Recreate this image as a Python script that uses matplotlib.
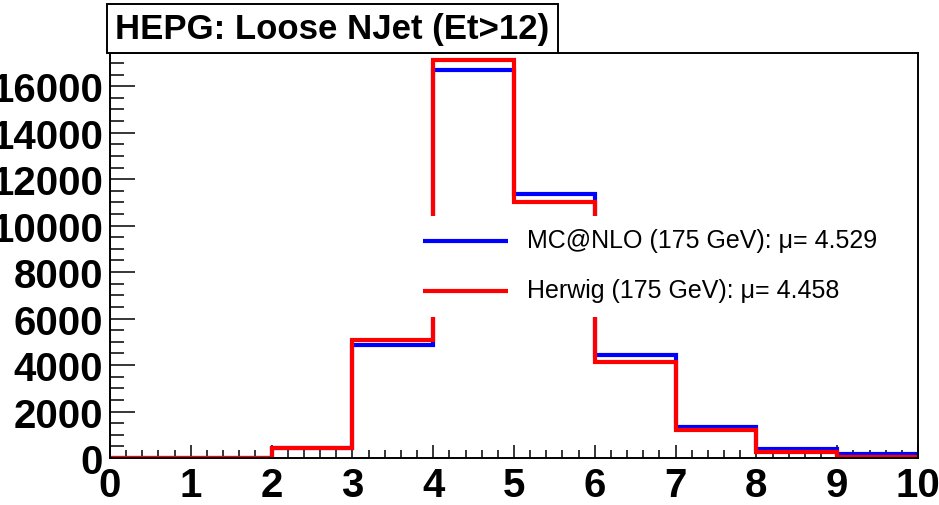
import numpy as np
import matplotlib
matplotlib.use("Agg")
import matplotlib.pyplot as plt
from matplotlib.patches import Rectangle
from matplotlib.ticker import MultipleLocator

# Jet multiplicity bins (Et > 12 GeV)
bin_edges = [0, 1, 2, 3, 4, 5, 6, 7, 8, 9, 10]
mcatnlo_counts = [0, 0, 430, 4870, 16680, 11350, 4440, 1320, 380, 180]
herwig_counts = [0, 0, 450, 5060, 17130, 11030, 4150, 1195, 240, 50]

title_text = "HEPG: Loose NJet (Et>12)"
mcatnlo_label = "MC@NLO (175 GeV): \u03bc= 4.529"
herwig_label = "Herwig (175 GeV): \u03bc= 4.458"

W, H = 939, 506
fig = plt.figure(figsize=(W / 100, H / 100), dpi=100)
fig.patch.set_facecolor("white")

# axes frame in pixel terms
x0, x1 = 110, 918
y_top, y_bot = 53.5, 459
ax = fig.add_axes([x0 / W, (H - y_bot) / H, (x1 - x0) / W, (y_bot - y_top) / H])

ymax = 17450
ax.set_xlim(0, 10)
ax.set_ylim(0, ymax)

ax.stairs(mcatnlo_counts, bin_edges, baseline=0, color="#0000ff", lw=3.0, zorder=3)
ax.stairs(herwig_counts, bin_edges, baseline=0, color="#ff0000", lw=3.0, zorder=4)

for s in ax.spines.values():
    s.set_linewidth(1.4)
    s.set_color("black")
    s.set_zorder(6)

ax.xaxis.set_major_locator(MultipleLocator(1))
ax.xaxis.set_minor_locator(MultipleLocator(0.2))
ax.yaxis.set_major_locator(MultipleLocator(2000))
ax.yaxis.set_minor_locator(MultipleLocator(500))

tick_font = dict(family="Liberation Sans", weight="bold", size=29)
ax.tick_params(axis="y", which="major", direction="in", length=18, width=1.1, pad=5)
ax.tick_params(axis="y", which="minor", direction="in", length=10, width=1.1)
ax.tick_params(axis="x", which="major", direction="in", length=9.5, width=1.1, pad=6)
ax.tick_params(axis="x", which="minor", direction="in", length=5.5, width=1.1)
for lab in ax.get_xticklabels() + ax.get_yticklabels():
    lab.set_fontfamily("Liberation Sans")
    lab.set_fontweight("bold")
    lab.set_fontsize(29)
ax.yaxis.set_major_formatter(matplotlib.ticker.FuncFormatter(lambda v, p: f"{int(v)}"))

# legend panel (white, borderless) drawn over the histograms
def ax_x(px):
    return (px - x0) / (x1 - x0)

def ax_y(py):
    return (y_bot - py) / (y_bot - y_top)

ax.add_patch(Rectangle((ax_x(412), ax_y(318)), ax_x(912) - ax_x(412), ax_y(217) - ax_y(318),
                       transform=ax.transAxes, facecolor="white", edgecolor="none", zorder=5))
for label, color, py in [(mcatnlo_label, "#0000ff", 241.5), (herwig_label, "#ff0000", 291.5)]:
    ax.plot([ax_x(423), ax_x(508)], [ax_y(py), ax_y(py)], transform=ax.transAxes,
            color=color, lw=3.0, solid_capstyle="butt", zorder=6, clip_on=False)
    ax.text(ax_x(527), ax_y(py), label, transform=ax.transAxes, ha="left", va="center",
            family="Liberation Sans", fontsize=18, color="black", zorder=6)

# title box
bx0, bx1, by0, by1 = 107, 558, 5, 54
fig.patches.append(Rectangle((bx0 / W, (H - by1) / H), (bx1 - bx0) / W, (by1 - by0) / H,
                             transform=fig.transFigure, facecolor="white", edgecolor="black",
                             lw=1.4, zorder=10))
fig.text((bx0 + bx1) / 2 / W, (H - (by0 + by1) / 2) / H, title_text, ha="center", va="center",
         family="Liberation Sans", weight="bold", fontsize=25, zorder=11)

fig.savefig("out.png", dpi=100)
